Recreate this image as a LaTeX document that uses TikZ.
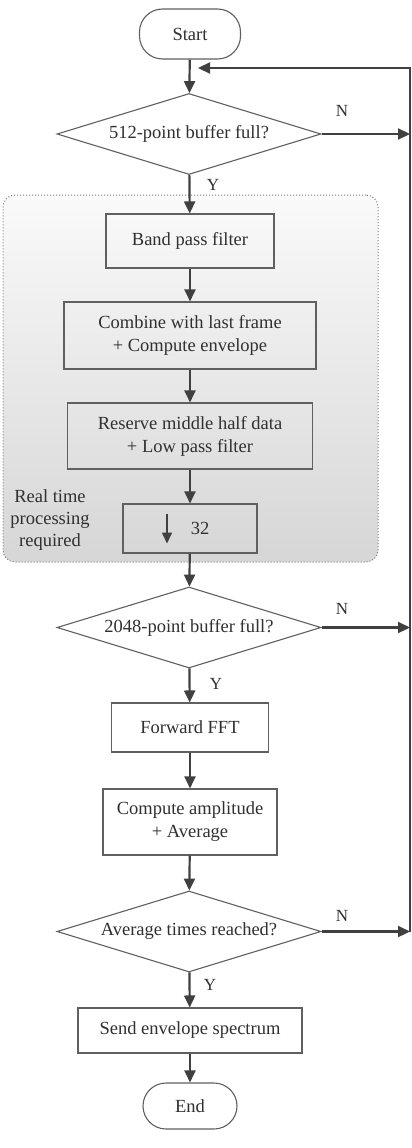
\documentclass[tikz,border=0pt]{standalone}
\usepackage{fontspec}
\setmainfont{Liberation Serif}
\usetikzlibrary{arrows.meta,shapes.geometric,calc}
\definecolor{linec}{HTML}{404040}
\definecolor{boxc}{HTML}{606060}
\definecolor{txtc}{HTML}{303030}
\begin{document}
\begin{tikzpicture}[x=1pt,y=-1pt,
  flow/.style={draw=linec, line width=2.2pt, -{Triangle[length=12pt,width=11pt]}},
  plain/.style={draw=linec, line width=2.2pt},
  txt/.style={text=txtc, font=\fontsize{18.5}{23}\selectfont},
  box/.style={txt, draw=boxc, line width=1.1pt, rectangle, inner sep=0pt, align=center},
  term/.style={box, rounded corners=23pt},
  dec/.style={txt, draw=boxc, line width=1.1pt, diamond, aspect=3.26, inner sep=0pt, fill=white},
  yn/.style={txt, font=\fontsize{17}{20}\selectfont}
]
\useasboundingbox (0,0) rectangle (412,1148);
\fill[white] (0,0) rectangle (412,1148);

% real-time region
\node[draw=gray, dotted, line width=1pt, rounded corners=12pt, top color=gray!4, bottom color=gray!32,
      minimum width=375pt, minimum height=367pt, inner sep=0pt] (region) at (190.5,378.5) {};
\node[txt, align=center, font=\fontsize{18.5}{22}\selectfont] (rtlabel) at (50,520) {Real time\\processing\\required};

\node[term, fill=white, minimum width=101pt, minimum height=50pt] (start) at (190,34) {Start};
\node[dec, minimum width=264pt, minimum height=81pt] (d1) at (189,134) {512-point buffer full?};
\node[box, minimum width=168pt, minimum height=54pt] (bpf) at (190,241) {Band pass filter};
\node[box, minimum width=252pt, minimum height=67pt] (comb) at (190,335.5) {Combine with last frame\\+ Compute envelope};
\node[box, minimum width=245pt, minimum height=66pt] (res) at (190,436) {Reserve middle half data\\+ Low pass filter};
\node[box, minimum width=134pt, minimum height=49pt] (down) at (190,528.5) {\hspace*{20pt}32};
\node[dec, minimum width=264pt, minimum height=81pt] (d2) at (189,627.5) {2048-point buffer full?};
\node[box, fill=white, minimum width=157pt, minimum height=49pt] (fft) at (190,727.5) {Forward FFT};
\node[box, fill=white, minimum width=174pt, minimum height=66pt] (amp) at (190,822) {Compute amplitude\\+ Average};
\node[dec, minimum width=264pt, minimum height=81pt] (d3) at (189,931.5) {Average times reached?};
\node[box, fill=white, minimum width=224pt, minimum height=45pt] (send) at (190,1030.5) {Send envelope spectrum};
\node[term, fill=white, minimum width=94pt, minimum height=46pt] (end) at (190,1106) {End};

% down-sampling glyph
\draw[draw=linec, line width=1.6pt, -{Triangle[length=11pt,width=10pt]}]
  ([xshift=-23pt,yshift=15pt]down.center) -- ([xshift=-23pt,yshift=-15pt]down.center);

% right return line
\coordinate (r1) at (410,134);
\coordinate (r2) at (410,627.5);
\coordinate (r3) at (410,931.5);
\coordinate (rtop) at (410,68);
\coordinate (back) at (198,68);

\draw[flow] (start) -- (d1);
\draw[flow] (d1) -- (bpf);
\draw[flow] (bpf) -- (comb);
\draw[flow] (comb) -- (res);
\draw[flow] (res) -- (down);
\draw[flow] (down) -- (d2);
\draw[flow] (d2) -- (fft);
\draw[flow] (fft) -- (amp);
\draw[flow] (amp) -- (d3);
\draw[flow] (d3) -- (send);
\draw[flow] (send) -- (end);

\draw[flow] (d1.east) -- (r1);
\draw[flow] (d2.east) -- (r2);
\draw[flow] (d3.east) -- (r3);
\draw[flow] (r3) -- (rtop) -- (back);

% labels
\node[yn] (n1) at (342,111) {N};
\node[yn] (n2) at (342,609) {N};
\node[yn] (n3) at (342,916) {N};
\node[yn] (y1) at (213,185) {Y};
\node[yn] (y2) at (216,684) {Y};
\node[yn] (y3) at (210,985) {Y};
\end{tikzpicture}
\end{document}
